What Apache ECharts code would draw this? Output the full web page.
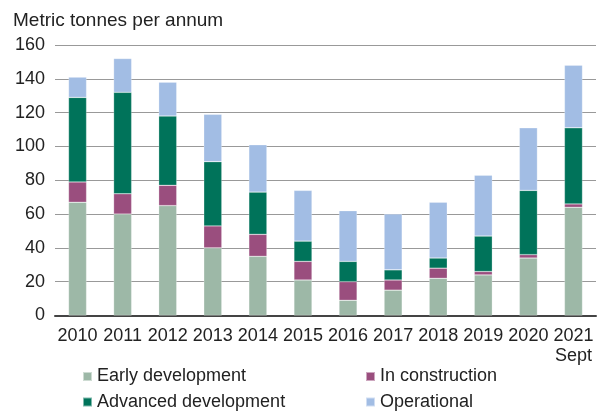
<!DOCTYPE html>
<html>
<head>
<meta charset="utf-8">
<script src="https://cdn.jsdelivr.net/npm/echarts@6/dist/echarts.min.js"></script>
<style>
  html, body { margin: 0; padding: 0; background: #fff; }
  #chart { width: 597px; height: 411px; }
</style>
</head>
<body>
<div id="chart"></div>
<script>
const years = ['2010', '2011', '2012', '2013', '2014', '2015', '2016', '2017', '2018', '2019', '2020', '2021\nSept'];
const early = [67, 60, 65, 40, 35, 21, 9, 15, 22, 24, 34, 64];
const inConstruction = [12, 12, 12, 13, 13, 11, 11, 6, 6, 2, 2, 2];
const advanced = [50, 60, 41, 38, 25, 12, 12, 6, 6, 21, 38, 45];
const operational = [12, 20, 20, 28, 28, 30, 30, 33, 33, 36, 37, 37];
const yTicks = [0, 20, 40, 60, 80, 100, 120, 140, 160];

const colors = {
  early: '#9db8a7',
  inc: '#9a4e7e',
  adv: '#00735a',
  op: '#a2bde4'
};

const font = 'Liberation Sans, Arial, sans-serif';

const chart = echarts.init(document.getElementById('chart'));

function bar(name, data, color) {
  return {
    name,
    type: 'bar',
    stack: 'total',
    data,
    barWidth: '40%',
    itemStyle: { color, borderColor: 'rgba(255,255,255,0.5)', borderWidth: 0.5 }
  };
}

function legendItem(name, color, left, top) {
  return {
    data: [{ name, icon: 'rect', itemStyle: { color } }],
    left, top,
    padding: 0,
    itemWidth: 9, itemHeight: 9,
    textStyle: { fontFamily: font, fontSize: 18, color: '#222' },
    selectedMode: false
  };
}

chart.setOption({
  animation: false,
  title: {
    text: 'Metric tonnes per annum',
    left: 8, top: 6,
    textStyle: { fontFamily: font, fontSize: 19, fontWeight: 'normal', color: '#222' }
  },
  grid: { left: 55, right: 1, top: 45, bottom: 95.5, containLabel: false },
  legend: [
    legendItem('Early development', colors.early, 82, 367.5),
    legendItem('In construction', colors.inc, 365, 367.5),
    legendItem('Advanced development', colors.adv, 82, 393),
    legendItem('Operational', colors.op, 365, 393)
  ],
  xAxis: {
    type: 'category',
    data: years,
    axisTick: { show: false },
    axisLine: { lineStyle: { color: '#444', width: 2 } },
    axisLabel: {
      fontFamily: font, fontSize: 18, color: '#222', margin: 11,
      lineHeight: 20, interval: 0, align: 'center'
    }
  },
  yAxis: {
    type: 'value',
    min: yTicks[0],
    max: yTicks[yTicks.length - 1],
    interval: 20,
    axisLine: { show: false },
    axisTick: { show: false },
    splitLine: { lineStyle: { color: '#999', width: 1.2 } },
    axisLabel: { fontFamily: font, fontSize: 18, color: '#222', margin: 10 }
  },
  series: [
    bar('Early development', early, colors.early),
    bar('In construction', inConstruction, colors.inc),
    bar('Advanced development', advanced, colors.adv),
    bar('Operational', operational, colors.op)
  ]
});
</script>
</body>
</html>
